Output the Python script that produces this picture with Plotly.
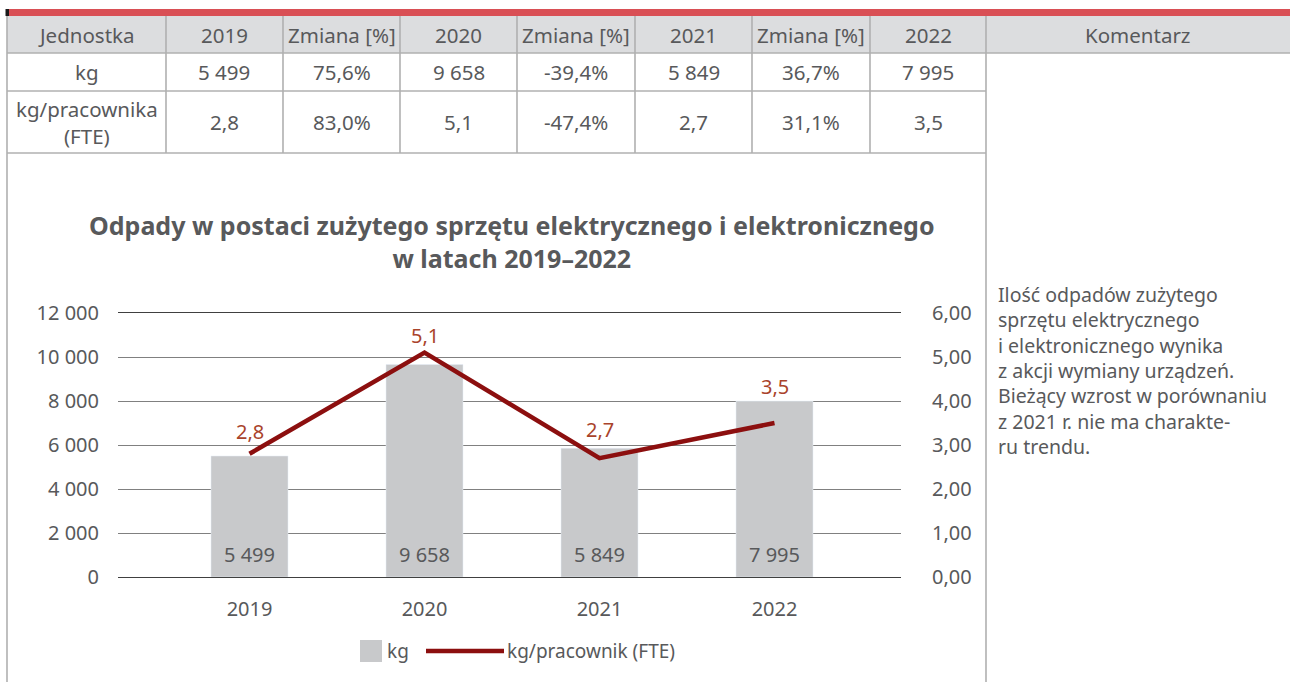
import plotly.graph_objects as go

# ---------------- data ----------------
years = ["2019", "2020", "2021", "2022"]
kg = [5499, 9658, 5849, 7995]
kg_per_fte = [2.8, 5.1, 2.7, 3.5]

table_header = ["Jednostka", "2019", "Zmiana [%]", "2020", "Zmiana [%]", "2021", "Zmiana [%]", "2022", "Komentarz"]
row_kg = ["kg", "5 499", "75,6%", "9 658", "-39,4%", "5 849", "36,7%", "7 995"]
row_fte = ["kg/pracownika<br>(FTE)", "2,8", "83,0%", "5,1", "-47,4%", "2,7", "31,1%", "3,5"]

title_text = "Odpady w postaci zużytego sprzętu elektrycznego i elektronicznego<br>w latach 2019–2022"
comment_lines = [
    "Ilość odpadów zużytego",
    "sprzętu elektrycznego",
    "i elektronicznego wynika",
    "z akcji wymiany urządzeń.",
    "Bieżący wzrost w porównaniu",
    "z 2021 r. nie ma charakte-",
    "ru trendu.",
]
legend_names = ["kg", "kg/pracownik (FTE)"]
left_ticks = [0, 2000, 4000, 6000, 8000, 10000, 12000]
left_tick_text = ["0", "2 000", "4 000", "6 000", "8 000", "10 000", "12 000"]
right_ticks = [0, 1, 2, 3, 4, 5, 6]
right_tick_text = ["0,00", "1,00", "2,00", "3,00", "4,00", "5,00", "6,00"]

# ---------------- style ----------------
W, H = 1290, 682
FONT = "Noto Sans"
TXT = "#58595b"
GRID = "#808080"
AXLINE = "#404040"
BAR = "#c8c9cb"
LINE = "#8c0f0f"
LBL = "#a9432b"
BORDER = "#b0b0b0"
HEAD_BG = "#dcdddf"
label_shift = [7, 2, 13, 21]


def X(px):
    return px / W


def Y(py):
    return 1 - py / H


def fmt_int(v):
    return f"{v:,}".replace(",", " ")


def fmt_dec(v):
    return f"{v:.1f}".replace(".", ",")


fig = go.Figure()

fig.add_trace(go.Bar(
    x=years, y=kg, name=legend_names[0], marker_color=BAR, width=0.44,
    yaxis="y", hoverinfo="skip", showlegend=False,
))
fig.add_trace(go.Scatter(
    x=years, y=kg_per_fte, name=legend_names[1], mode="lines",
    line=dict(color=LINE, width=4.5), yaxis="y2", hoverinfo="skip", showlegend=False,
))

annotations = []
# bar value labels (x given as category index)
for i, v in enumerate(kg):
    annotations.append(dict(x=i, y=0, xref="x", yref="y", text=fmt_int(v),
                            showarrow=False, yanchor="bottom", yshift=7,
                            font=dict(family=FONT, size=20, color=TXT)))
# line value labels
for i, (v, s) in enumerate(zip(kg_per_fte, label_shift)):
    annotations.append(dict(x=i, y=v, xref="x", yref="y2", text=fmt_dec(v),
                            showarrow=False, yanchor="bottom", yshift=s,
                            font=dict(family=FONT, size=20, color=LBL)))
# title
annotations.append(dict(x=X(512), y=Y(241), xref="paper", yref="paper", text=title_text,
                        showarrow=False, xanchor="center", yanchor="middle",
                        font=dict(family=FONT, size=25, color=TXT, weight="bold")))

shapes = []
# red top bar
shapes.append(dict(type="rect", xref="paper", yref="paper", x0=X(9), x1=X(1290), y0=Y(16), y1=Y(9),
                   fillcolor="#d94f55", line_width=0, layer="above"))
shapes.append(dict(type="rect", xref="paper", yref="paper", x0=X(5.5), x1=X(9), y0=Y(16), y1=Y(9),
                   fillcolor="#1a1a1a", line_width=0, layer="above"))
# header background
shapes.append(dict(type="rect", xref="paper", yref="paper", x0=X(7), x1=X(1290), y0=Y(53), y1=Y(16),
                   fillcolor=HEAD_BG, line_width=0, layer="below"))

col_edges = [7, 166, 283, 400, 517, 635, 752, 870, 986, 1290]


def hline(py, x0, x1):
    shapes.append(dict(type="line", xref="paper", yref="paper", x0=X(x0), x1=X(x1), y0=Y(py), y1=Y(py),
                       line=dict(color=BORDER, width=1.6), layer="above"))


def vline(px, y0, y1):
    shapes.append(dict(type="line", xref="paper", yref="paper", x0=X(px), x1=X(px), y0=Y(y0), y1=Y(y1),
                       line=dict(color=BORDER, width=1.6), layer="above"))


hline(53, 7, 1290)
hline(91, 7, 986)
hline(153, 7, 986)
for cx in col_edges[1:-2]:
    vline(cx, 16, 153)
vline(7, 16, 682)
vline(986, 16, 682)

# table text
for i, t in enumerate(table_header):
    cx = (col_edges[i] + col_edges[i + 1]) / 2
    annotations.append(dict(x=X(cx), y=Y(35), xref="paper", yref="paper", text=t, showarrow=False,
                            xanchor="center", yanchor="middle",
                            font=dict(family=FONT, size=20.5, color=TXT)))
for row, (ya, yb) in zip([row_kg, row_fte], [(53, 91), (91, 153)]):
    for i, t in enumerate(row):
        cx = (col_edges[i] + col_edges[i + 1]) / 2
        annotations.append(dict(x=X(cx), y=Y((ya + yb) / 2), xref="paper", yref="paper", text=t,
                                showarrow=False, xanchor="center", yanchor="middle",
                                font=dict(family=FONT, size=20.5, color=TXT)))

# comment text
annotations.append(dict(x=X(996), y=Y(370), xref="paper", yref="paper", text="<br>".join(comment_lines),
                        showarrow=False, xanchor="left", yanchor="middle", align="left",
                        font=dict(family=FONT, size=19.5, color=TXT)))

# custom legend
shapes.append(dict(type="rect", xref="paper", yref="paper", x0=X(360), x1=X(382), y0=Y(662), y1=Y(640),
                   fillcolor=BAR, line_width=0))
shapes.append(dict(type="line", xref="paper", yref="paper", x0=X(426), x1=X(504), y0=Y(651), y1=Y(651),
                   line=dict(color=LINE, width=4.5)))
annotations.append(dict(x=X(385), y=Y(651), xref="paper", yref="paper", text=legend_names[0],
                        showarrow=False, xanchor="left", yanchor="middle",
                        font=dict(family=FONT, size=19, color=TXT)))
annotations.append(dict(x=X(505), y=Y(651), xref="paper", yref="paper", text=legend_names[1],
                        showarrow=False, xanchor="left", yanchor="middle",
                        font=dict(family=FONT, size=19, color=TXT)))

x_left, x_right = 118, 901
c0, step = 249.5, 175.0
fig.update_layout(
    width=W, height=H, autosize=False,
    margin=dict(l=0, r=0, t=0, b=0, pad=0, autoexpand=False),
    paper_bgcolor="white", plot_bgcolor="white",
    font=dict(family=FONT, color=TXT, size=20),
    showlegend=False,
    xaxis=dict(domain=[X(x_left), X(x_right)], type="category",
               range=[(x_left - c0) / step, (x_right - c0) / step],
               showgrid=False, zeroline=False, showline=True, mirror=True,
               linecolor=AXLINE, linewidth=1.2, ticks="",
               tickfont=dict(family=FONT, size=20, color=TXT), ticklabelstandoff=14),
    yaxis=dict(domain=[Y(577), Y(313)], range=[0, 12000], tickvals=left_ticks, ticktext=left_tick_text,
               showgrid=True, gridcolor=GRID, gridwidth=1, zeroline=False, showline=False, ticks="",
               tickfont=dict(family=FONT, size=20, color=TXT), ticklabelstandoff=18),
    yaxis2=dict(overlaying="y", side="right", range=[0, 6], tickvals=right_ticks, ticktext=right_tick_text,
                showgrid=False, zeroline=False, showline=False, ticks="",
                tickfont=dict(family=FONT, size=20, color=TXT), ticklabelstandoff=30),
    annotations=annotations,
    shapes=shapes,
)

fig.write_html("out.html", config={"displayModeBar": False},
               post_script="document.body.style.margin='0px';")
